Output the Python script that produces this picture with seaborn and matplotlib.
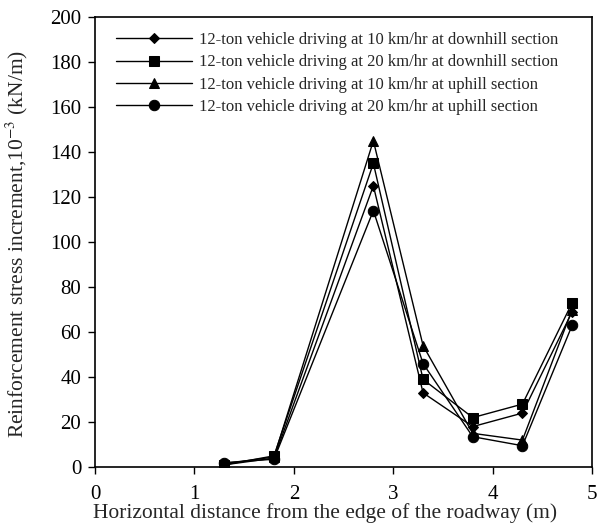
import numpy as np
import pandas as pd
import matplotlib
matplotlib.use("Agg")
import matplotlib.pyplot as plt
import seaborn as sns

distance = [1.3, 1.8, 2.8, 3.3, 3.8, 4.3, 4.8]
down_10 = [1.0, 4.0, 125, 33, 18, 24, 69]
down_20 = [1.0, 5.0, 135, 39, 22, 28, 73]
up_10 = [1.5, 4.5, 145, 54, 15, 12, 70]
up_20 = [2.0, 3.5, 114, 46, 13.5, 9.5, 63]

labels = [
    "12-ton vehicle driving at 10 km/hr at downhill section",
    "12-ton vehicle driving at 20 km/hr at downhill section",
    "12-ton vehicle driving at 10 km/hr at uphill section",
    "12-ton vehicle driving at 20 km/hr at uphill section",
]
series = [down_10, down_20, up_10, up_20]
marker_map = dict(zip(labels, ["D", "s", "^", "o"]))
size_map = dict(zip(labels, [5, 7, 7, 7.5]))

df = pd.concat(
    [pd.DataFrame({"x": distance, "y": vals, "series": lab}) for lab, vals in zip(labels, series)],
    ignore_index=True,
)

sns.set_style("ticks")
plt.rcParams["font.family"] = ["Liberation Serif", "DejaVu Serif"]
plt.rcParams["mathtext.fontset"] = "stix"

fig = plt.figure(figsize=(5.98, 5.32), dpi=100)
ax = fig.add_axes([0.159, 0.122, 0.831, 0.846])

for lab in labels:
    sub = df[df["series"] == lab]
    sns.lineplot(
        data=sub, x="x", y="y", ax=ax, color="black", linewidth=1.0,
        marker=marker_map[lab], markersize=size_map[lab],
        markeredgecolor="black", markerfacecolor="black", label=lab,
        sort=False, errorbar=None,
    )

ax.set_xlim(0, 5)
ax.set_ylim(0, 200)
ax.set_xticks(range(0, 6))
ax.set_yticks(range(0, 201, 20))
for side in ["top", "right", "left", "bottom"]:
    ax.spines[side].set_visible(True)
    ax.spines[side].set_linewidth(1.2)
    ax.spines[side].set_color("black")
ax.tick_params(direction="out", length=5, width=1, labelsize=15, colors="black")
ax.tick_params(axis="x", pad=8)
ax.tick_params(axis="y", pad=5)
ax.set_xlabel("Horizontal distance from the edge of the roadway (m)", fontsize=15.5, labelpad=-1)
ax.xaxis.label.set_x(0.463)
ax.set_ylabel(r"Reinforcement stress increment,10$^{-3}$ (kN/m)", fontsize=15.5)
ax.yaxis.set_label_coords(-0.13, 0.495)

ax.legend(
    loc="upper left", bbox_to_anchor=(0.018, 0.992), frameon=False, fontsize=12,
    handlelength=4.6, numpoints=1, labelspacing=0.37, handletextpad=0.4, borderaxespad=0.3,
)

fig.savefig("out.png", dpi=100)
